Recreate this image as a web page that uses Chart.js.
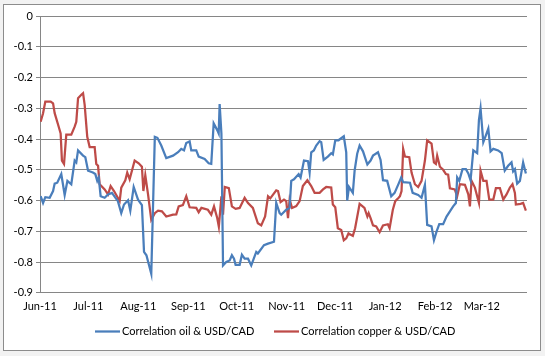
<!DOCTYPE html>
<html><head><meta charset="utf-8">
<script src="https://cdn.jsdelivr.net/npm/chart.js@4/dist/chart.umd.min.js"></script>
<style>html,body{margin:0;padding:0;background:#f2f2f2;}#wrap{width:545px;height:356px;}</style>
</head><body><div id="wrap"><canvas id="c" width="545" height="356"></canvas></div>
<script>
// Days since 1 Jun 2011
const monthTickDays = [0, 30, 61, 92, 122, 153, 183, 214, 245, 274];
const monthLabels = ["Jun-11","Jul-11","Aug-11","Sep-11","Oct-11","Nov-11","Dec-11","Jan-12","Feb-12","Mar-12"];
const seriesNames = ["Correlation oil & USD/CAD", "Correlation copper & USD/CAD"];

const oilDays = [0.4,1.9,3.3,6.0,8.1,9.1,10.7,13.2,15.3,17.0,19.4,21.5,22.5,23.6,26.7,28.1,29.8,32.8,34.3,35.5,36.4,37.6,40.1,42.2,44.6,48.3,50.4,52.1,54.6,56.0,58.1,60.8,63.2,64.5,66.0,69.0,71.2,72.8,75.2,78.3,82.5,85.6,87.6,89.3,90.7,92.8,93.8,96.9,98.4,102.1,104.6,106.2,107.7,109.9,110.8,111.4,112.5,113.5,115.5,117.6,119.0,120.3,121.3,123.8,125.2,126.9,129.0,131.0,134.1,135.1,138.9,141.4,145.1,146.5,148.6,149.6,152.7,154.8,155.8,157.5,160.4,161.6,163.7,166.2,167.2,168.2,169.8,171.3,173.4,174.4,175.9,178.5,180.6,181.6,183.1,185.1,188.4,189.9,190.5,191.6,194.0,195.1,196.7,198.2,200.3,203.0,205.0,206.5,209.6,211.2,212.7,215.3,217.8,219.9,222.4,224.0,225.2,229.4,231.1,234.5,236.6,238.7,240.1,242.8,244.3,245.9,247.6,250.0,252.1,254.2,256.2,257.9,258.7,260.0,262.0,264.1,265.6,267.0,268.7,271.1,272.2,273.2,274.9,276.5,278.0,279.4,281.1,284.1,286.3,288.2,290.3,292.4,293.4,294.5,295.9,297.6,299.6,301.3];
const oilValues = [-0.586,-0.608,-0.589,-0.591,-0.569,-0.545,-0.542,-0.514,-0.582,-0.536,-0.547,-0.470,-0.476,-0.437,-0.454,-0.459,-0.503,-0.509,-0.514,-0.536,-0.525,-0.586,-0.591,-0.580,-0.575,-0.602,-0.641,-0.613,-0.599,-0.633,-0.556,-0.597,-0.615,-0.767,-0.778,-0.838,-0.393,-0.396,-0.421,-0.462,-0.454,-0.443,-0.432,-0.437,-0.413,-0.408,-0.437,-0.437,-0.457,-0.465,-0.479,-0.481,-0.349,-0.371,-0.382,-0.286,-0.382,-0.811,-0.800,-0.795,-0.778,-0.789,-0.809,-0.809,-0.776,-0.789,-0.789,-0.811,-0.767,-0.772,-0.745,-0.740,-0.734,-0.608,-0.641,-0.646,-0.630,-0.624,-0.536,-0.531,-0.514,-0.525,-0.470,-0.472,-0.509,-0.443,-0.437,-0.421,-0.407,-0.410,-0.468,-0.457,-0.446,-0.450,-0.404,-0.404,-0.391,-0.443,-0.600,-0.556,-0.575,-0.503,-0.448,-0.421,-0.440,-0.483,-0.470,-0.454,-0.443,-0.468,-0.534,-0.536,-0.586,-0.575,-0.545,-0.525,-0.540,-0.542,-0.575,-0.582,-0.591,-0.549,-0.679,-0.684,-0.729,-0.701,-0.677,-0.677,-0.652,-0.635,-0.619,-0.608,-0.525,-0.536,-0.498,-0.498,-0.512,-0.534,-0.437,-0.446,-0.338,-0.300,-0.410,-0.388,-0.366,-0.440,-0.432,-0.437,-0.446,-0.503,-0.487,-0.476,-0.505,-0.498,-0.545,-0.536,-0.476,-0.512];

const copperDays = [0.4,1.9,3.3,6.6,8.1,9.1,11.6,12.8,13.6,14.9,16.3,19.4,21.5,22.5,23.6,25.6,26.7,27.7,29.3,30.8,33.9,34.9,36.0,37.0,40.1,42.2,43.8,45.9,49.4,50.4,52.9,54.1,55.6,58.7,61.2,63.2,64.1,65.3,67.0,69.0,71.2,73.2,75.6,78.3,82.5,84.5,86.0,88.6,90.7,92.8,96.9,98.4,100.1,104.1,106.2,107.9,109.9,110.9,112.5,113.5,114.6,117.1,119.0,121.3,123.8,126.9,129.0,132.0,135.1,137.2,139.6,141.4,142.8,146.5,147.6,149.2,151.3,152.7,153.8,154.8,156.3,158.9,161.0,163.0,165.8,168.2,170.3,173.4,175.5,177.5,180.6,181.6,183.1,184.7,186.8,188.4,189.9,191.3,194.0,195.4,198.2,201.2,203.0,203.8,205.0,206.5,208.5,210.6,212.7,215.7,216.8,218.8,220.3,222.4,223.2,224.2,225.2,226.3,229.0,230.4,232.5,234.5,236.6,238.7,240.1,242.8,244.3,245.5,246.3,248.0,250.0,251.7,253.1,254.2,257.2,258.7,260.4,263.5,265.6,266.6,267.6,269.7,272.2,273.2,274.9,276.9,278.6,281.1,282.7,285.2,287.3,289.3,291.4,293.0,294.5,295.1,298.0,299.6,301.3];
const copperValues = [-0.344,-0.316,-0.278,-0.278,-0.284,-0.316,-0.360,-0.382,-0.470,-0.481,-0.386,-0.386,-0.360,-0.344,-0.267,-0.256,-0.251,-0.289,-0.393,-0.426,-0.426,-0.481,-0.487,-0.547,-0.564,-0.580,-0.553,-0.569,-0.602,-0.558,-0.534,-0.509,-0.531,-0.470,-0.479,-0.490,-0.569,-0.518,-0.580,-0.663,-0.641,-0.633,-0.635,-0.652,-0.646,-0.645,-0.619,-0.615,-0.586,-0.622,-0.624,-0.638,-0.624,-0.630,-0.646,-0.619,-0.657,-0.685,-0.586,-0.646,-0.556,-0.560,-0.619,-0.627,-0.624,-0.591,-0.608,-0.624,-0.674,-0.681,-0.652,-0.586,-0.593,-0.567,-0.569,-0.605,-0.597,-0.602,-0.657,-0.597,-0.624,-0.618,-0.602,-0.553,-0.534,-0.553,-0.575,-0.575,-0.564,-0.556,-0.558,-0.613,-0.622,-0.690,-0.696,-0.729,-0.723,-0.707,-0.715,-0.690,-0.611,-0.624,-0.652,-0.641,-0.657,-0.681,-0.684,-0.703,-0.681,-0.677,-0.690,-0.630,-0.602,-0.591,-0.586,-0.569,-0.432,-0.457,-0.459,-0.509,-0.547,-0.556,-0.536,-0.470,-0.404,-0.415,-0.476,-0.481,-0.454,-0.490,-0.500,-0.514,-0.516,-0.560,-0.564,-0.586,-0.547,-0.549,-0.580,-0.619,-0.536,-0.558,-0.608,-0.503,-0.536,-0.536,-0.597,-0.597,-0.560,-0.560,-0.597,-0.580,-0.558,-0.547,-0.575,-0.613,-0.611,-0.608,-0.633];

const yTickValues = [0,-0.1,-0.2,-0.3,-0.4,-0.5,-0.6,-0.7,-0.8,-0.9];

const pairs = (xs, ys) => xs.map((x, i) => ({x: x, y: ys[i]}));
const FONT = "Lato, 'Liberation Sans', sans-serif";

const frame = {
  id: 'frame',
  beforeDraw(chart) {
    const ctx = chart.ctx;
    ctx.save();
    ctx.fillStyle = '#f2f2f2';
    ctx.fillRect(0, 0, chart.width, chart.height);
    ctx.fillStyle = '#ffffff';
    ctx.fillRect(3.5, 4.5, 537, 346);
    ctx.strokeStyle = '#8c8c8c';
    ctx.lineWidth = 1;
    ctx.strokeRect(3.5, 4.5, 537, 346);
    ctx.restore();
  }
};

// Legend drawn below the axis (Excel style: short line + label)
const bottomLegend = {
  id: 'bottomLegend',
  afterDraw(chart) {
    const ctx = chart.ctx;
    const y = 331.5;
    const starts = [95, 274];
    ctx.save();
    ctx.font = '11px ' + FONT;
    ctx.textBaseline = 'middle';
    ctx.textAlign = 'left';
    chart.data.datasets.forEach((ds, i) => {
      const x0 = starts[i];
      ctx.strokeStyle = ds.borderColor;
      ctx.lineWidth = 2.25;
      ctx.beginPath();
      ctx.moveTo(x0, y);
      ctx.lineTo(x0 + 25, y);
      ctx.stroke();
      ctx.fillStyle = '#000';
      ctx.fillText(ds.label, x0 + 27, y);
    });
    ctx.restore();
  }
};

new Chart(document.getElementById('c'), {
  type: 'line',
  data: {
    datasets: [
      {label: seriesNames[0], data: pairs(oilDays, oilValues), borderColor: '#4a7ebb', backgroundColor: '#4a7ebb', borderWidth: 2.25, pointRadius: 0, tension: 0},
      {label: seriesNames[1], data: pairs(copperDays, copperValues), borderColor: '#be4b48', backgroundColor: '#be4b48', borderWidth: 2.25, pointRadius: 0, tension: 0}
    ]
  },
  plugins: [frame, bottomLegend],
  options: {
    responsive: false,
    animation: false,
    events: [],
    layout: {padding: {left: 0, right: 18, top: 16, bottom: 36}},
    plugins: {
      legend: {display: false},
      tooltip: {enabled: false}
    },
    scales: {
      x: {
        type: 'linear', min: 0, max: 302,
        afterBuildTicks(scale) { scale.ticks = monthTickDays.map(v => ({value: v})); },
        ticks: {
          autoSkip: false, maxRotation: 0, padding: 7, color: '#000',
          font: {family: FONT, size: 11},
          callback(value) { const i = monthTickDays.indexOf(value); return i >= 0 ? monthLabels[i] : ''; }
        },
        grid: {display: false, drawTicks: false},
        border: {display: false}
      },
      y: {
        min: -0.9, max: 0,
        afterBuildTicks(scale) { scale.ticks = yTickValues.map(v => ({value: v})); },
        afterFit(scale) { scale.width = 40; },
        ticks: {padding: 3, color: '#000', font: {family: FONT, size: 11},
          callback(value) { return String(Math.round(value * 10) / 10); }},
        grid: {color: '#868686', lineWidth: 1, tickLength: 4},
        border: {color: '#868686'}
      }
    }
  }
});
</script></body></html>
